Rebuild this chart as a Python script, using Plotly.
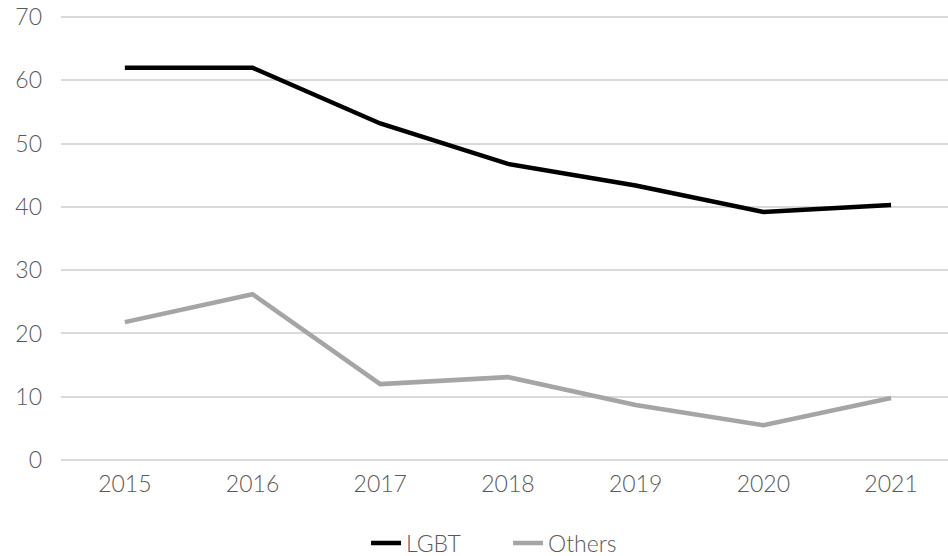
import plotly.graph_objects as go

years = ["2015", "2016", "2017", "2018", "2019", "2020", "2021"]
lgbt = [62.0, 62.0, 53.2, 46.8, 43.4, 39.2, 40.3]
others = [21.8, 26.2, 12.0, 13.1, 8.7, 5.5, 9.8]
y_ticks = [0, 10, 20, 30, 40, 50, 60, 70]

fig = go.Figure()
fig.add_trace(go.Scatter(x=years, y=lgbt, name="LGBT", mode="lines",
                         line=dict(color="#000000", width=4.5)))
fig.add_trace(go.Scatter(x=years, y=others, name="Others", mode="lines",
                         line=dict(color="#a5a5a5", width=4.5)))

font = dict(family="Lato, 'Open Sans', sans-serif", size=23, color="#595959", weight=300)
fig.update_layout(
    width=948, height=556,
    margin=dict(l=61, r=0, t=14, b=96, autoexpand=False),
    paper_bgcolor="white", plot_bgcolor="white",
    font=font,
    showlegend=True,
    legend=dict(orientation="h", xref="paper", x=0.504, xanchor="center",
                yref="paper", y=-0.186, yanchor="middle",
                font=font, itemwidth=30, tracegroupgap=0,
                entrywidth=97, entrywidthmode="pixels",
                bgcolor="rgba(0,0,0,0)"),
    xaxis=dict(type="category", range=[-0.5, 6.446], showgrid=False,
               showline=False, ticks="", tickfont=font, ticklabelstandoff=8,
               automargin=False),
    yaxis=dict(range=[0, 70.5], tickvals=y_ticks, showgrid=True,
               gridcolor="#d9d9d9", gridwidth=1.5, zeroline=True,
               zerolinecolor="#d9d9d9", zerolinewidth=1.5, showline=False,
               ticks="", tickfont=font, ticklabelstandoff=18, automargin=False),
)
fig.write_html("out.html", config={"displayModeBar": False},
               post_script="document.body.style.margin='0';document.body.style.overflow='hidden';")
